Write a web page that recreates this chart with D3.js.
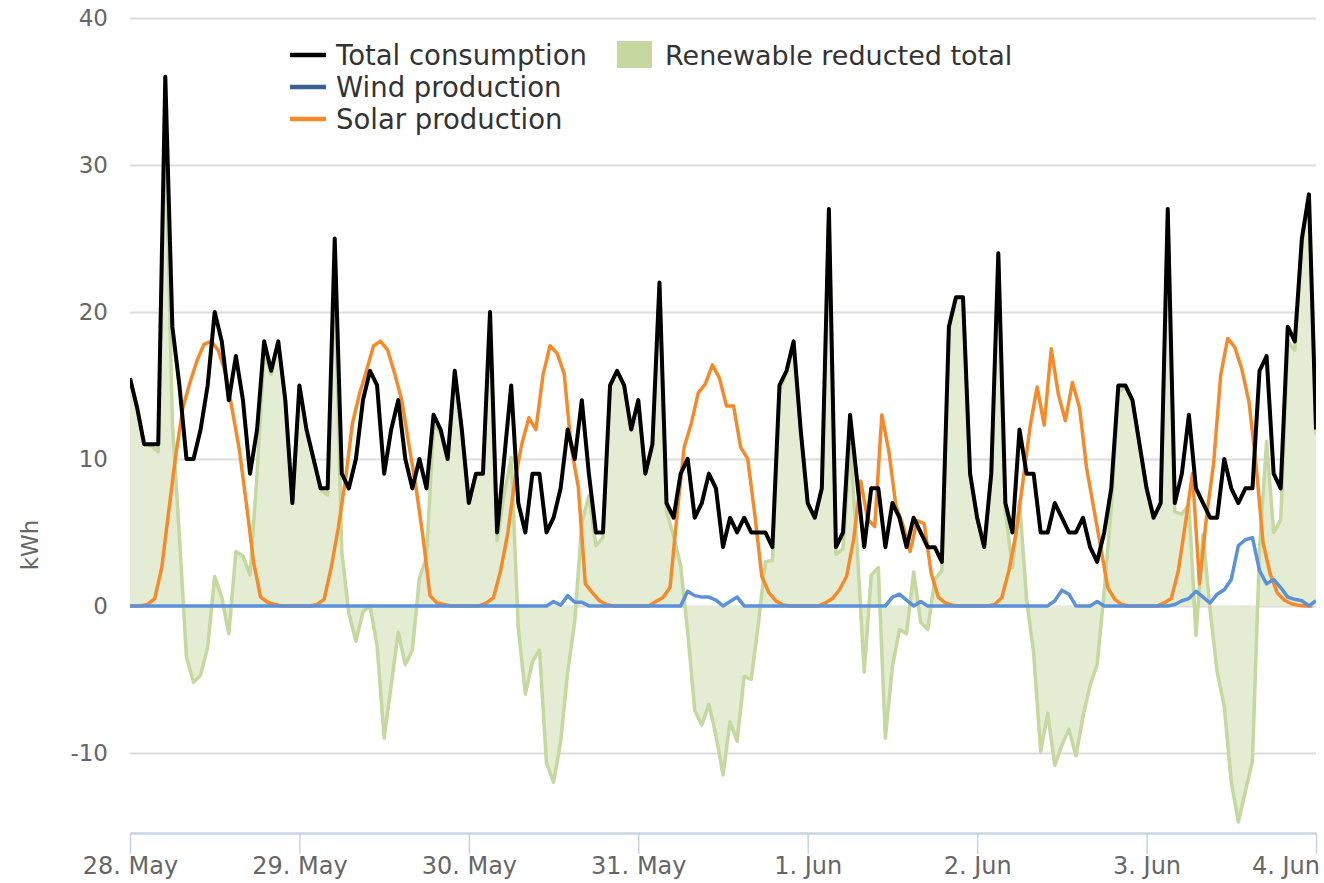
<!DOCTYPE html>
<html>
<head>
<meta charset="utf-8">
<script src="https://cdn.jsdelivr.net/npm/d3@7/dist/d3.min.js"></script>
<style>
  body { margin: 0; background: #fff; }
  text { font-family: "DejaVu Sans", Verdana, sans-serif; }
</style>
</head>
<body>
<svg id="chart" width="1324" height="883"></svg>
<script>
// hourly readings, 28 May 00:00 .. 4 Jun 00:00
var startDate = new Date(2019, 4, 28);

var consumption = [
  15.5, 13.5, 11, 11, 11, 36, 19, 15, 10, 10, 12, 15, 20, 18, 14, 17, 14, 9, 12, 18, 16, 18, 14, 7,
  15, 12, 10, 8, 8, 25, 9, 8, 10, 14, 16, 15, 9, 12, 14, 10, 8, 10, 8, 13, 12, 10, 16, 12,
  7, 9, 9, 20, 5, 10, 15, 7, 5, 9, 9, 5, 6, 8, 12, 10, 14, 9, 5, 5, 15, 16, 15, 12,
  14, 9, 11, 22, 7, 6, 9, 10, 6, 7, 9, 8, 4, 6, 5, 6, 5, 5, 5, 4, 15, 16, 18, 12,
  7, 6, 8, 27, 4, 5, 13, 8.5, 4, 8, 8, 4, 7, 6, 4, 6, 5, 4, 4, 3, 19, 21, 21, 9,
  6, 4, 9, 24, 7, 5, 12, 9, 9, 5, 5, 7, 6, 5, 5, 6, 4, 3, 5, 8, 15, 15, 14, 11,
  8, 6, 7, 27, 7, 9, 13, 8, 7, 6, 6, 10, 8, 7, 8, 8, 16, 17, 9, 8, 19, 18, 25, 28,
  12
];

var wind = [
  0, 0, 0, 0, 0, 0, 0, 0, 0, 0, 0, 0, 0, 0, 0, 0, 0, 0, 0, 0, 0, 0, 0, 0,
  0, 0, 0, 0, 0, 0, 0, 0, 0, 0, 0, 0, 0, 0, 0, 0, 0, 0, 0, 0, 0, 0, 0, 0,
  0, 0, 0, 0, 0, 0, 0, 0, 0, 0, 0, 0, 0.3, 0.05, 0.7, 0.25, 0.25, 0, 0, 0, 0, 0, 0, 0,
  0, 0, 0, 0, 0, 0, 0, 1.0, 0.7, 0.6, 0.6, 0.4, 0, 0.3, 0.6, 0, 0, 0, 0, 0, 0, 0, 0, 0,
  0, 0, 0, 0, 0, 0, 0, 0, 0, 0, 0, 0, 0.6, 0.8, 0.4, 0, 0.3, 0, 0, 0, 0, 0, 0, 0,
  0, 0, 0, 0, 0, 0, 0, 0, 0, 0, 0, 0.35, 1.07, 0.8, 0, 0, 0, 0.3, 0, 0, 0, 0, 0, 0,
  0, 0, 0, 0, 0.1, 0.35, 0.5, 1.0, 0.6, 0.2, 0.8, 1.1, 1.8, 4.1, 4.5, 4.65, 2.4, 1.5, 1.8, 1.25, 0.6, 0.45, 0.35, 0,
  0.35
];

// solar readings are stamped half an hour before the consumption readings
var solar = [
  0, 0, 0, 0.1, 0.5, 2.6, 6.5, 10.3, 13.5, 15.2, 16.7, 17.8, 18, 17.4, 15.9, 13.3, 10.6, 6.9, 3, 0.6, 0.25, 0.1, 0, 0,
  0, 0, 0, 0.1, 0.45, 2.6, 5.3, 8.5, 12.4, 14.4, 16, 17.7, 18, 17.4, 15.8, 14, 11, 8.1, 4.7, 0.7, 0.2, 0.1, 0, 0,
  0, 0, 0, 0.2, 0.57, 2.4, 4.9, 8.5, 11, 12.8, 12, 15.7, 17.7, 17.2, 15.8, 10.8, 8.1, 1.5, 0.9, 0.35, 0.1, 0, 0, 0,
  0, 0, 0, 0.3, 0.57, 1.25, 6.25, 10.8, 12.4, 14.5, 15.1, 16.4, 15.5, 13.6, 13.6, 10.8, 10, 6.25, 2, 0.9, 0.34, 0.07, 0, 0,
  0, 0, 0, 0.2, 0.5, 1.1, 2, 4.5, 8.5, 5.9, 5.4, 13, 10.5, 6.8, 5.5, 3.7, 5.8, 5.6, 2.2, 0.6, 0.2, 0.05, 0, 0,
  0, 0, 0, 0.1, 0.57, 2.4, 4.9, 8.5, 12.2, 14.9, 12.3, 17.5, 14.4, 12.6, 15.2, 13.5, 9.4, 6.7, 4, 1.25, 0.45, 0.1, 0, 0,
  0, 0, 0, 0.2, 0.5, 2.4, 5.6, 9, 1.5, 6.1, 9.7, 15.7, 18.2, 17.6, 16.1, 13.9, 9.7, 4.3, 2.2, 0.9, 0.4, 0.15, 0.05, 0,
  0
];

var yTicks = [-10, 0, 10, 20, 30, 40];
var seriesNames = ["Total consumption", "Wind production", "Solar production", "Renewable reducted total"];
var colors = { total: '#000000', wind: '#5b91d8', windLegend: '#3b6190', solar: '#f58a2a', areaLine: '#c4d89f', areaFill: '#e4ecd4' };

var plotLeft = 130, plotRight = 1316, plotTop = 18, plotBottom = 833;

var hour = function(i) { return d3.timeHour.offset(startDate, i); };
var xScale = d3.scaleTime().domain([startDate, hour(168)]).range([plotLeft, plotRight]);
var yScale = d3.scaleLinear().domain([-15.45, 40]).range([plotBottom, plotTop]);

var svg = d3.select('#chart');

svg.append('defs').append('clipPath').attr('id', 'plot')
  .append('rect').attr('x', plotLeft).attr('y', plotTop - 5)
  .attr('width', plotRight - plotLeft).attr('height', plotBottom - plotTop + 5);

// grid + y labels
var yAxis = svg.append('g').attr('class', 'y axis').attr('transform', 'translate(' + plotLeft + ',0)')
  .call(d3.axisLeft(yScale).tickValues(yTicks).tickSize(-(plotRight - plotLeft)).tickPadding(22)
    .tickFormat(function(d) { return String(d); }));
yAxis.select('.domain').remove();
yAxis.selectAll('line').attr('stroke', '#dcdcdc').attr('stroke-width', 2);
yAxis.selectAll('text').attr('fill', '#666').style('font-size', '23px');

svg.append('text').attr('transform', 'translate(38, 545) rotate(-90)')
  .attr('text-anchor', 'middle').attr('fill', '#666').style('font-size', '23px').text('kWh');

var plot = svg.append('g').attr('clip-path', 'url(#plot)');

var renewable = consumption.map(function(v, i) { return v - wind[i] - solar[i]; });

var area = d3.area()
  .x(function(d, i) { return xScale(hour(i)); })
  .y0(yScale(0))
  .y1(function(d) { return yScale(d); });
var hourLine = d3.line()
  .x(function(d, i) { return xScale(hour(i)); })
  .y(function(d) { return yScale(d); });
var solarLine = d3.line()
  .x(function(d, i) { return xScale(d3.timeMinute.offset(hour(i), -30)); })
  .y(function(d) { return yScale(d); });

plot.append('path').datum(renewable).attr('d', area).attr('fill', colors.areaFill);
plot.append('path').datum(renewable).attr('d', hourLine).attr('fill', 'none')
  .attr('stroke', colors.areaLine).attr('stroke-width', 3.5).attr('stroke-linejoin', 'round');
plot.append('path').datum(solar).attr('d', solarLine).attr('fill', 'none')
  .attr('stroke', colors.solar).attr('stroke-width', 3.5).attr('stroke-linejoin', 'round');
plot.append('path').datum(consumption).attr('d', hourLine).attr('fill', 'none')
  .attr('stroke', colors.total).attr('stroke-width', 4).attr('stroke-linejoin', 'round');
plot.append('path').datum(wind).attr('d', hourLine).attr('fill', 'none')
  .attr('stroke', colors.wind).attr('stroke-width', 3.5).attr('stroke-linejoin', 'round');

// x axis
var xAxis = svg.append('g').attr('class', 'x axis').attr('transform', 'translate(0,' + plotBottom + ')')
  .call(d3.axisBottom(xScale).ticks(d3.timeDay.every(1)).tickFormat(d3.timeFormat('%-d. %b'))
    .tickSizeInner(21).tickSizeOuter(0).tickPadding(3));
xAxis.select('.domain').attr('stroke', '#c8d4e6').attr('stroke-width', 2.5);
xAxis.selectAll('line').attr('stroke', '#c8d4e6').attr('stroke-width', 1.5);
xAxis.selectAll('text').attr('fill', '#666').style('font-size', '24px');
xAxis.selectAll('text').each(function() {
  var box = this.getBBox();
  var tx = d3.select(this.parentNode).attr('transform');
  var cx = +tx.match(/translate\(([-\d.]+)/)[1];
  if (cx + box.width / 2 > 1320) d3.select(this).attr('x', 1320 - cx - box.width / 2);
});

// legend
var legend = svg.append('g').attr('class', 'legend');
var legendRows = [
  { name: seriesNames[0], color: colors.total, x: 290, y: 55 },
  { name: seriesNames[1], color: colors.windLegend, x: 290, y: 87 },
  { name: seriesNames[2], color: colors.solar, x: 290, y: 119 }
];
legendRows.forEach(function(r) {
  legend.append('line').attr('x1', r.x).attr('x2', r.x + 36).attr('y1', r.y).attr('y2', r.y)
    .attr('stroke', r.color).attr('stroke-width', 4.5);
  legend.append('text').attr('x', r.x + 46).attr('y', r.y + 10).attr('fill', '#333')
    .style('font-size', '27.5px').text(r.name);
});
legend.append('rect').attr('x', 617).attr('y', 41).attr('width', 35).attr('height', 27).attr('fill', colors.areaLine);
legend.append('text').attr('x', 665).attr('y', 65).attr('fill', '#333').style('font-size', '27px').text(seriesNames[3]);
</script>
</body>
</html>
